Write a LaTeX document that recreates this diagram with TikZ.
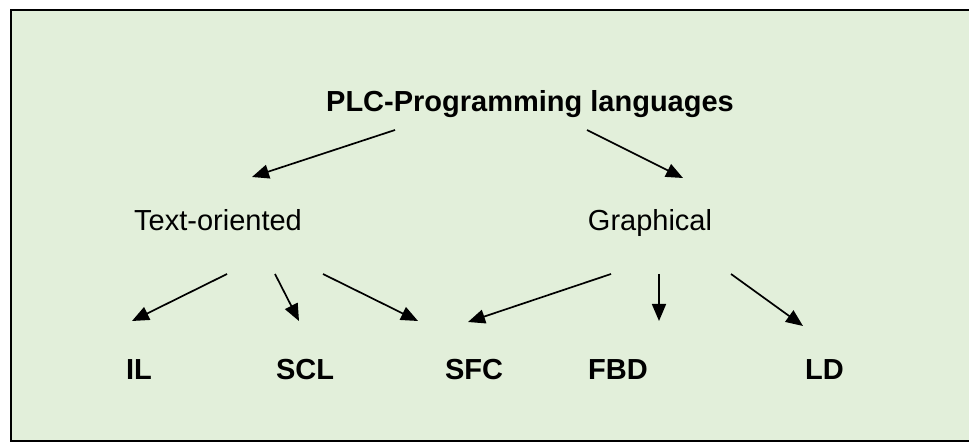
\documentclass[tikz,border=0pt]{standalone}
\usepackage{fontspec}
\setmainfont{Liberation Sans}
\usetikzlibrary{arrows.meta}
\definecolor{panelgreen}{RGB}{226,239,218}
\tikzset{
  lbl/.style={inner sep=0pt, anchor=base, font=\fontsize{29}{34}\selectfont},
  blbl/.style={lbl, font=\fontsize{29}{34}\selectfont\bfseries},
  arr/.style={line width=1.7pt, -{Triangle[length=17pt,width=14pt]}}
}
\begin{document}
\begin{tikzpicture}[x=1pt,y=-1pt]
  \useasboundingbox (0,0) rectangle (969,443);
  % panel
  \path[fill=panelgreen] (11,10) rectangle (975,441);
  \draw[line width=2.4pt] (975,10) -- (11,10) -- (11,441) -- (975,441);

  % labels
  \node[blbl] (title) at (530,112) {PLC-Programming languages};
  \node[lbl]  (text)  at (218,231) {Text-oriented};
  \node[lbl]  (graph) at (650,231) {Graphical};
  \node[blbl] (il)    at (139,380) {IL};
  \node[blbl] (scl)   at (305,380) {SCL};
  \node[blbl] (sfc)   at (474,380) {SFC};
  \node[blbl] (fbd)   at (618,380) {FBD};
  \node[blbl] (ld)    at (824.5,380) {LD};

  % connectors
  \draw[arr] ([shift={(-135,18)}]title.base) -- ([shift={(34,-54)}]text.base);
  \draw[arr] ([shift={(57,18)}]title.base)   -- ([shift={(33,-53)}]graph.base);
  \draw[arr] ([shift={(9,43)}]text.base)     -- ([shift={(-7,-59)}]il.base);
  \draw[arr] ([shift={(57,43)}]text.base)    -- ([shift={(-6,-59)}]scl.base);
  \draw[arr] ([shift={(105,43)}]text.base)   -- ([shift={(-56,-59)}]sfc.base);
  \draw[arr] ([shift={(-39,43)}]graph.base)  -- ([shift={(-6,-58)}]sfc.base);
  \draw[arr] ([shift={(9,43)}]graph.base)    -- ([shift={(41,-59)}]fbd.base);
  \draw[arr] ([shift={(81,43)}]graph.base)   -- ([shift={(-21.5,-54)}]ld.base);
\end{tikzpicture}
\end{document}
